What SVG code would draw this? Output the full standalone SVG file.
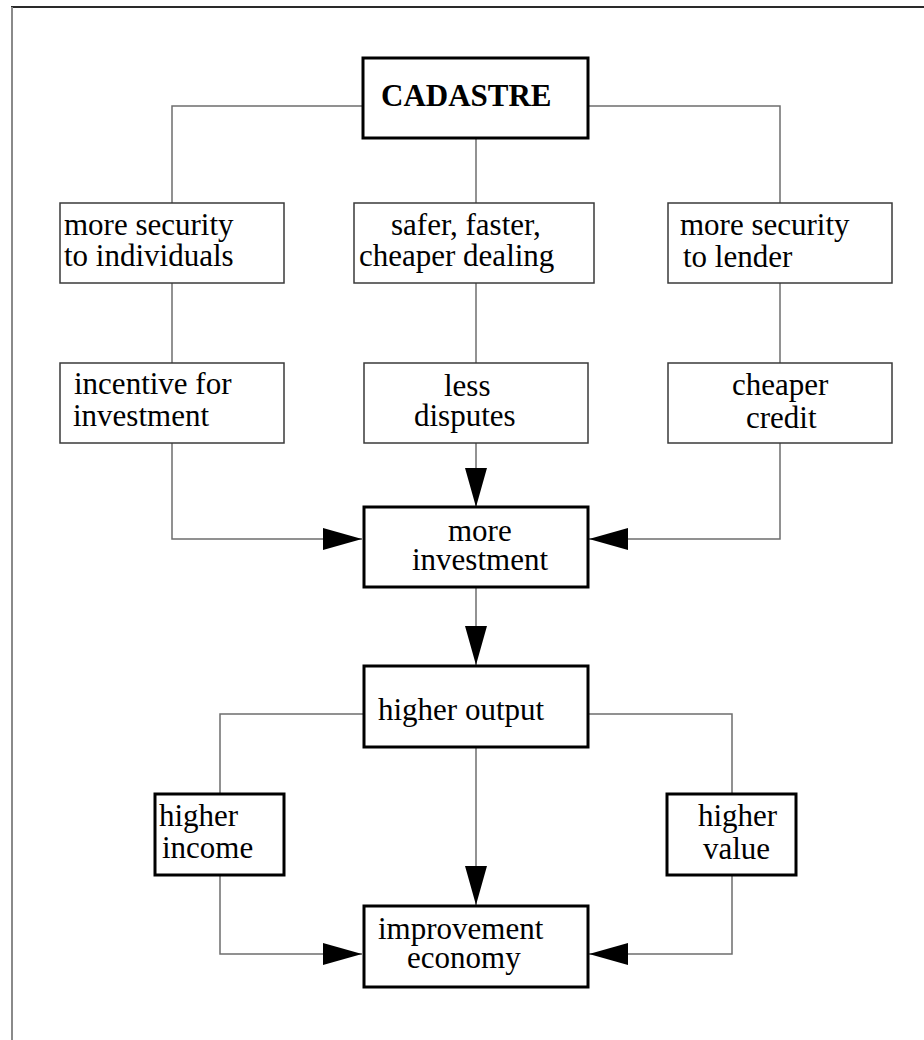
<svg xmlns="http://www.w3.org/2000/svg" width="924" height="1040" viewBox="0 0 924 1040">
  <style>
    .box { fill: #ffffff; stroke: #3a3a3a; stroke-width: 1.5; }
    .box-strong { fill: #ffffff; stroke: #000000; stroke-width: 3; }
    .label { font-family: "Liberation Serif", "Times New Roman", serif; font-size: 31px; fill: #000000; }
    .title { font-family: "Liberation Serif", "Times New Roman", serif; font-size: 31px; font-weight: bold; fill: #000000; }
    .wire { fill: none; stroke: #6e6e6e; stroke-width: 1.5; }
    .arrow { fill: none; stroke: #6e6e6e; stroke-width: 1.5; marker-end: url(#head); }
  </style>
  <defs>
    <marker id="head" markerUnits="userSpaceOnUse" markerWidth="39" markerHeight="22" refX="39" refY="11" orient="auto">
      <path d="M0,0 L39,11 L0,22 Z" fill="#000000"/>
    </marker>
  </defs>

  <rect width="924" height="1040" fill="#ffffff"/>

  <!-- page frame -->
  <g id="frame">
    <line x1="11" y1="7" x2="924" y2="7" stroke="#2a2a2a" stroke-width="2"/>
    <line x1="12" y1="7" x2="12" y2="1040" stroke="#8a8a8a" stroke-width="2"/>
  </g>

  <!-- connectors -->
  <g id="connectors">
    <polyline class="wire" points="363,106 172,106 172,203"/>
    <polyline class="wire" points="588,106 780,106 780,203"/>
    <line class="wire" x1="476" y1="138" x2="476" y2="203"/>
    <line class="wire" x1="172" y1="283" x2="172" y2="363"/>
    <line class="wire" x1="476" y1="283" x2="476" y2="363"/>
    <line class="wire" x1="780" y1="283" x2="780" y2="363"/>
    <polyline class="arrow" points="172,443 172,539 362,539"/>
    <line class="arrow" x1="476" y1="443" x2="476" y2="507"/>
    <polyline class="arrow" points="780,443 780,539 589,539"/>
    <line class="arrow" x1="476" y1="588" x2="476" y2="665"/>
    <polyline class="wire" points="363,714 220,714 220,794"/>
    <polyline class="wire" points="588,714 732,714 732,794"/>
    <line class="arrow" x1="476" y1="748" x2="476" y2="905"/>
    <polyline class="arrow" points="220,875 220,954 362,954"/>
    <polyline class="arrow" points="732,875 732,954 589,954"/>
  </g>

  <g id="cadastre">
    <rect class="box-strong" x="363" y="58" width="225" height="80"/>
    <text class="title" x="381" y="106">CADASTRE</text>
  </g>

  <g id="security-individuals">
    <rect class="box" x="60" y="203" width="224" height="80"/>
    <text class="label" x="64" y="235">more security</text>
    <text class="label" x="64" y="266">to individuals</text>
  </g>

  <g id="safer-dealing">
    <rect class="box" x="354" y="203" width="240" height="80"/>
    <text class="label" x="391" y="235">safer, faster,</text>
    <text class="label" x="359" y="266">cheaper dealing</text>
  </g>

  <g id="security-lender">
    <rect class="box" x="668" y="203" width="224" height="80"/>
    <text class="label" x="680" y="235">more security</text>
    <text class="label" x="683" y="267">to lender</text>
  </g>

  <g id="incentive">
    <rect class="box" x="60" y="363" width="224" height="80"/>
    <text class="label" x="74" y="394">incentive for</text>
    <text class="label" x="73" y="426">investment</text>
  </g>

  <g id="less-disputes">
    <rect class="box" x="364" y="363" width="224" height="80"/>
    <text class="label" x="444" y="396">less</text>
    <text class="label" x="414" y="426">disputes</text>
  </g>

  <g id="cheaper-credit">
    <rect class="box" x="668" y="363" width="224" height="80"/>
    <text class="label" x="732" y="395">cheaper</text>
    <text class="label" x="746" y="428">credit</text>
  </g>

  <g id="more-investment">
    <rect class="box-strong" x="364" y="507" width="224" height="80"/>
    <text class="label" x="448" y="541">more</text>
    <text class="label" x="412" y="570">investment</text>
  </g>

  <g id="higher-output">
    <rect class="box-strong" x="364" y="666" width="224" height="81"/>
    <text class="label" x="378" y="720">higher output</text>
  </g>

  <g id="higher-income">
    <rect class="box-strong" x="155" y="794" width="129" height="81"/>
    <text class="label" x="159" y="826">higher</text>
    <text class="label" x="162" y="858">income</text>
  </g>

  <g id="higher-value">
    <rect class="box-strong" x="667" y="794" width="129" height="81"/>
    <text class="label" x="698" y="826">higher</text>
    <text class="label" x="703" y="859">value</text>
  </g>

  <g id="improvement-economy">
    <rect class="box-strong" x="364" y="906" width="224" height="81"/>
    <text class="label" x="378" y="939">improvement</text>
    <text class="label" x="407" y="968">economy</text>
  </g>
</svg>
